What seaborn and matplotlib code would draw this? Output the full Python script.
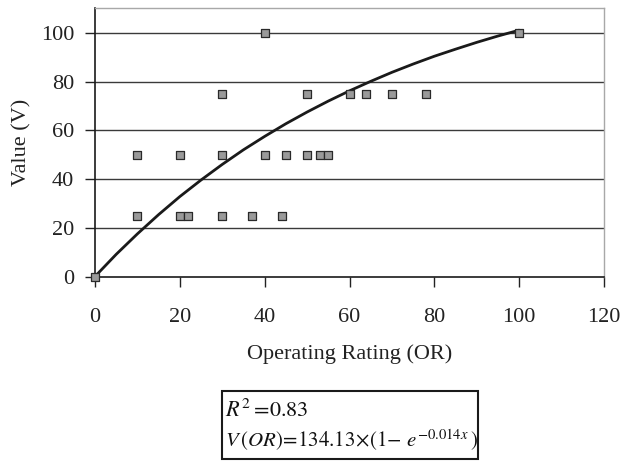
import matplotlib
matplotlib.use("Agg")
import matplotlib.pyplot as plt
import seaborn as sns
import pandas as pd
from matplotlib.patches import Rectangle

# Observed data (Operating Rating vs Value)
or_values = [0, 10, 10, 20, 20, 22, 30, 30, 30, 37, 40, 40, 44, 45, 50, 50, 53, 55, 60, 64, 70, 78, 100]
v_values = [0, 25, 50, 25, 50, 25, 25, 50, 75, 25, 50, 100, 25, 50, 50, 75, 50, 50, 75, 75, 75, 75, 100]

# Trend line
trend_x = [0, 5, 10, 15, 20, 25, 30, 35, 40, 45, 50, 55, 60, 65, 70, 75, 80, 85, 90, 95, 100]
trend_y = [0, 9.1, 17.5, 25.4, 32.8, 39.6, 46.0, 52.0, 57.5, 62.7, 67.5, 72.0, 76.2, 80.1, 83.8,
           87.2, 90.4, 93.3, 96.1, 98.7, 101.1]

x_ticks = [0, 20, 40, 60, 80, 100, 120]
y_ticks = [0, 20, 40, 60, 80, 100]
x_label = "Operating Rating (OR)"
y_label = "Value (V)"
stat_line1 = r"$R^2\,\!=\!0.83$"
stat_line2 = r"$V\,(OR)\!=\!134.13\!\times\!(1\!-\!\ e^{-0.014x}\,)$"

sns.set_style("white")
plt.rcParams["font.family"] = ["Liberation Serif", "DejaVu Serif"]
plt.rcParams["mathtext.fontset"] = "stix"

df = pd.DataFrame({"OR": or_values, "V": v_values})
trend = pd.DataFrame({"OR": trend_x, "V": trend_y})

fig = plt.figure(figsize=(6.22, 4.61), dpi=100)
ax = fig.add_axes([0.1527, 0.4002, 0.8184, 0.5814])

for yv in y_ticks[1:]:
    ax.axhline(yv, color="#3a3a3a", lw=1.0, zorder=1)

sns.lineplot(data=trend, x="OR", y="V", ax=ax, color="#1a1a1a", lw=2.0, zorder=3)
sns.scatterplot(data=df, x="OR", y="V", ax=ax, marker="s", s=26, color="#9a9a9a",
                edgecolor="#2a2a2a", linewidth=0.9, zorder=4, clip_on=False)

ax.set_xlim(0, 120)
ax.set_ylim(0, 110)
ax.set_xticks(x_ticks)
ax.set_yticks(y_ticks)
ax.tick_params(axis="both", labelsize=16, colors="#222222", length=7, width=1.0, direction="out")
ax.tick_params(axis="x", pad=16, bottom=True)
ax.tick_params(axis="y", pad=8, left=True)
ax.set_xlabel(x_label, fontsize=16, color="#222222", labelpad=12)
ax.set_ylabel(y_label, fontsize=16, color="#222222", labelpad=7)

for side in ["top", "right"]:
    ax.spines[side].set_color("#a8a8a8")
    ax.spines[side].set_linewidth(1.0)
for side in ["left", "bottom"]:
    ax.spines[side].set_color("#1a1a1a")
    ax.spines[side].set_linewidth(1.2)

W, H = 622, 461
box = Rectangle((222 / W, 1 - 459 / H), (478 - 222) / W, (459 - 391) / H,
                transform=fig.transFigure, fill=False, edgecolor="#1a1a1a", lw=1.5)
fig.add_artist(box)
fig.text(225 / W, 1 - 417 / H, stat_line1, fontsize=16, va="baseline", ha="left", color="#111111")
fig.text(225 / W, 1 - 447 / H, stat_line2, fontsize=15, va="baseline", ha="left", color="#111111")

fig.savefig("out.png", dpi=100)
